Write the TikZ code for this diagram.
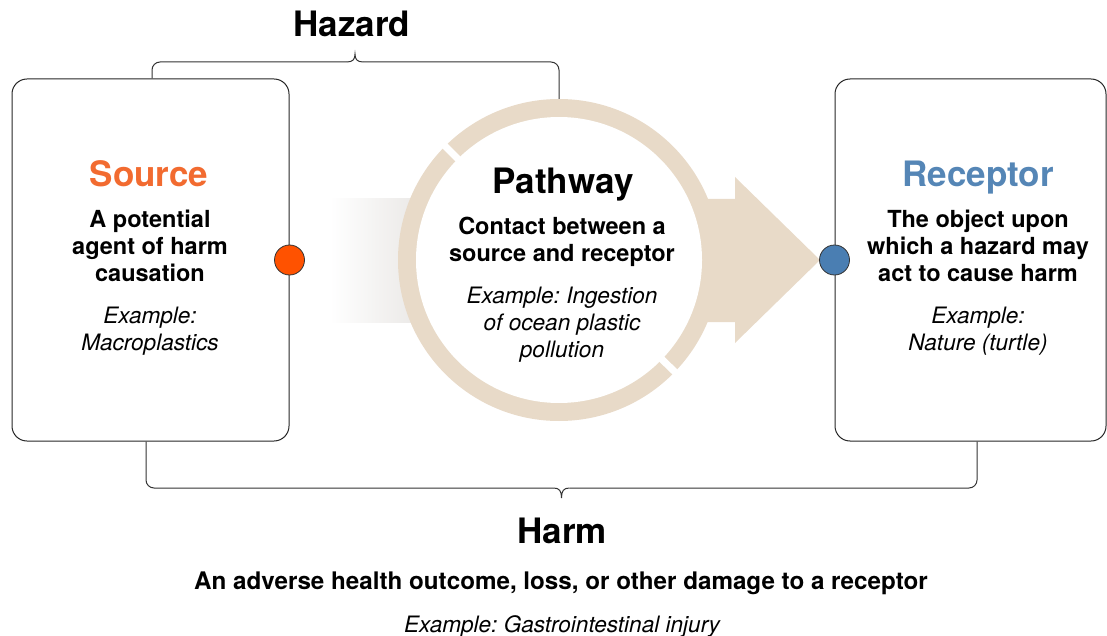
\documentclass[tikz,border=0pt]{standalone}
\usepackage{fontspec}
\setmainfont{TeX Gyre Heros}
\usetikzlibrary{calc}
\frenchspacing
\definecolor{beige}{HTML}{E8DAC8}
\definecolor{srcorange}{HTML}{F26B30}
\definecolor{dotorange}{HTML}{FF5200}
\definecolor{recblue}{HTML}{5586B6}
\definecolor{dotblue}{HTML}{4A7EB2}
\definecolor{linegrey}{HTML}{333333}
\definecolor{fadegrey}{HTML}{EBE9E7}
\begin{document}
\frenchspacing
\begin{tikzpicture}[x=1pt,y=-1pt,
  box/.style={draw=black!85, line width=1pt, rounded corners=15pt},
  title/.style={font=\fontsize{35}{40}\selectfont\bfseries, anchor=base, inner sep=0pt},
  body/.style={font=\fontsize{23.5}{27}\selectfont\bfseries, align=center, anchor=base, inner sep=0pt},
  example/.style={font=\fontsize{22.6}{27}\selectfont\itshape, align=center, anchor=base, inner sep=0pt},
  dot/.style={circle, draw=black!80, line width=0.8pt, minimum size=30pt, inner sep=0pt},
  brace/.style={draw=linegrey, line width=1pt}]

\useasboundingbox (0,0) rectangle (1107,636);

% fading band entering the pathway
\shade[left color=white, right color=fadegrey] (330,199) rectangle (416,322);
% arrow leaving the pathway
\fill[beige] (690,199) -- (735,199) -- (735,177) -- (820,260) -- (735,343) -- (735,322) -- (690,322) -- cycle;
% ring
\node[circle, fill=beige, minimum size=322pt, inner sep=0pt] (ring) at (559,260) {};
\node[circle, fill=white, minimum size=286pt, inner sep=0pt] (pw) at (559,260) {};
\draw[white, line width=7pt] ($(ring.center)+(225:136)$) -- ($(ring.center)+(225:168)$);
\draw[white, line width=7pt] ($(ring.center)+(44:136)$) -- ($(ring.center)+(44:168)$);

% boxes
\node[box, minimum width=277pt, minimum height=362pt] (src) at (150.5,260) {};
\node[box, minimum width=271pt, minimum height=362pt] (rec) at (970.5,260) {};

% dots
\node[dot, fill=dotorange] (sdot) at (src.east) {};
\node[dot, fill=dotblue] (rdot) at (rec.west) {};

% brackets
\coordinate (hzL) at (152,0 |- src.north);
\coordinate (hzR) at (ring.north);
\coordinate (hzM) at (355,54);
\draw[brace, rounded corners=8pt] (hzL) -- (152,62) -- (347,62);
\draw[brace, rounded corners=8pt] (363,62) -- (hzR |- 0,62) -- (hzR);
\draw[brace] (347,62) .. controls (353,62) and (355,59) .. (hzM) .. controls (355,59) and (357,62) .. (363,62);

\coordinate (hmL) at (146,0 |- src.south);
\coordinate (hmR) at (977,0 |- rec.south);
\coordinate (hmM) at (561.5,498);
\draw[brace, rounded corners=8pt] (hmL) -- (146,488) -- (553.5,488);
\draw[brace, rounded corners=8pt] (569.5,488) -- (977,488) -- (hmR);
\draw[brace] (553.5,488) .. controls (559.5,488) and (561.5,491) .. (hmM) .. controls (561.5,491) and (563.5,488) .. (569.5,488);

% texts (multi-line nodes: base = baseline of last line)
\node[title] (hz) at (352,37) {Hazard};

\node[title, text=srcorange] (srct) at (149,187) {Source};
\node[body] (srcb) at (150,281) {A potential\\agent of harm\\causation};
\node[example] (srce) at (150,350) {Example:\\Macroplastics};

\node[title] (pwt) at (563,194) {Pathway};
\node[body] (pwb) at (562,261) {Contact between a\\source and receptor};
\node[example] (pwe) at (562,357) {Example: Ingestion\\of ocean plastic\\pollution};

\node[title, text=recblue] (rect) at (978,187) {Receptor};
\node[body] (recb) at (978,281) {The object upon\\which a hazard may\\act to cause harm};
\node[example] (rece) at (978,350) {Example:\\Nature (turtle)};

\node[title] (hm) at (562,543) {Harm};
\node[body, font=\fontsize{24.2}{27}\selectfont\bfseries] (hmb) at (561,589) {An adverse health outcome, loss, or other damage to a receptor};
\node[example] (hme) at (562,632) {Example: Gastrointestinal injury};
\end{tikzpicture}
\end{document}
